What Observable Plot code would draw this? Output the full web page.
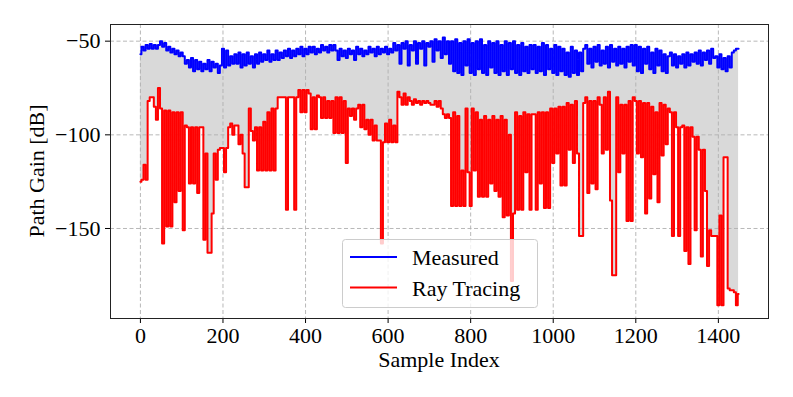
<!DOCTYPE html>
<html>
<head>
<meta charset="utf-8">
<script src="https://cdn.jsdelivr.net/npm/d3@7"></script>
<script src="https://cdn.jsdelivr.net/npm/@observablehq/plot@0.6"></script>
<style>
  html, body { margin: 0; padding: 0; background: #fff; }
  svg { display: block; }
</style>
</head>
<body>
<div id="chart"></div>
<script>
// Sample indices (every 5th sample, plus the final one)
const sampleIndex = d3.range(0, 1450, 5).concat([1449]);

// Measured path gain [dB]
const measured = [
  -57, -53, -55, -52, -54, -51.5, -54, -52, -54, -52,          // 0-45
  -50, -53, -51, -55, -53, -56,                                // 50-75
  -54, -57, -55, -58, -56,                                     // 80-100
  -58, -62, -60, -64,                                          // 105-120
  -59, -66, -60, -65, -61, -66,                                // 125-150
  -62, -65, -60, -66, -61, -64, -62,                           // 155-185
  -67, -63,                                                    // 190-195
  -54, -64, -55, -63,                                          // 200-215
  -58, -62, -57,                                               // 220-230
  -62, -56, -64, -57, -63, -56, -62, -58, -64, -57,            // 235-280
  -62, -56, -61, -57, -60, -55, -61, -57, -60, -55, -60, -56, -59, -55, // 285-350
  -58, -54, -59, -55, -58, -54, -57, -53, -58, -54, -57, -53,
  -56, -53, -57, -54, -56, -52, -55, -53, -56, -52, -55, -52,  // 355-470
  -55, -60, -54, -58, -55, -59, -54, -57, -55, -60, -53, -57, -54, -58,
  -55, -57, -53, -56, -54, -58, -53, -57, -54, -56, -53, -57, -54, -56, // 475-610
  -51, -55, -52, -62, -51, -54, -50, -63, -52, -55,
  -50, -62, -51, -54, -50, -63, -51, -53, -50, -61,            // 615-710
  -49, -55, -50, -59, -48, -57, -50, -62,                      // 715-750
  -50, -66, -49, -67, -51, -68, -50, -63, -49, -67,
  -51, -68, -50, -65, -49, -67, -52, -68, -50, -64,
  -51, -67, -50, -68, -52, -66, -50, -68, -51, -65,
  -50, -67, -52, -68, -51, -66, -53, -67, -52, -65,            // 755-950
  -52, -67, -53, -66, -51, -68, -52, -65, -54, -67, -52, -68, -53,
  -66, -54, -68, -56, -69, -53, -67, -55, -68, -56, -66, -54,  // 955-1075
  -52, -62, -54, -64, -53, -61, -52, -63, -55, -62, -53, -64,
  -52, -61, -54, -63, -53, -62, -54, -64, -53, -61, -52, -63,  // 1080-1195
  -52, -66, -53, -67, -54, -62, -53, -65, -56, -67, -54, -63, -55, -66, -57, -67, -58, // 1200-1280
  -56, -63, -57, -64, -58, -62, -57, -64, -56, -63, -57,
  -61, -56, -62, -55, -63, -56, -60, -55, -62, -54, -59,       // 1285-1390
  -58, -64, -57, -65, -59, -66, -58, -64,                      // 1395-1430
  -56, -55, -54, -54                                           // 1435-1449
];

// Ray tracing path gain [dB]
const rayTracing = [
  -125, -124, -116, -124, -82, -80, -80, -85, -92, -75,        // 0-45
  -86, -158, -87, -149, -87, -149,                             // 50-75
  -88, -136, -88, -130, -88,                                   // 80-100
  -151, -95, -96, -126,                                        // 105-120
  -96, -126, -96, -131, -96, -96,                              // 125-150
  -156, -110, -163, -163, -142, -110, -124,                    // 155-185
  -108, -107,                                                  // 190-195
  -107, -120, -107, -96,                                       // 200-215
  -94, -100, -95,                                              // 220-230
  -95, -105, -100, -110, -128, -128, -86, -98, -103, -96,      // 235-280
  -119, -96, -119, -93, -119, -88, -119, -86, -119, -86, -80, -80, -80, -80, // 285-350
  -140, -80, -80, -80, -140, -80, -76, -88, -76, -88, -76, -78,
  -97, -80, -97, -79, -80, -91, -80, -91, -82, -91, -82, -99,  // 355-470
  -80, -99, -80, -99, -82, -115, -86, -90, -86, -92, -86, -84, -96, -84,
  -97, -92, -100, -92, -103, -95, -103, -103, -158, -104, -94, -104, -92, -104, // 475-610
  -95, -104, -77, -80, -84, -78, -84, -80, -82, -84,
  -81, -83, -82, -84, -82, -83, -82, -83, -84, -84,            // 615-710
  -82, -85, -82, -86, -89, -91, -89, -91,                      // 715-750
  -138, -88, -138, -90, -138, -119, -138, -86, -120, -138,
  -86, -119, -88, -133, -92, -133, -90, -133, -92, -126,
  -90, -130, -92, -133, -90, -144, -92, -143, -100, -178,
  -142, -88, -140, -90, -140, -88, -120, -89, -140, -89,       // 755-950
  -89, -140, -88, -126, -88, -139, -88, -139, -86, -115, -86, -110, -85,
  -127, -85, -127, -83, -108, -84, -115, -82, -110, -154, -154, -83, // 955-1075
  -80, -131, -82, -126, -82, -129, -80, -84, -110, -80, -108, -77,
  -135, -175, -175, -80, -120, -84, -110, -84, -146, -82, -146, -80, // 1080-1195
  -82, -110, -82, -112, -83, -142, -83, -134, -85, -121, -88, -136, -83, -111, -84, -105, -86, // 1200-1280
  -88, -154, -88, -96, -154, -96, -95, -162, -96, -169, -96,
  -101, -151, -101, -108, -165, -108, -130, -170, -151, -154, -154, // 1285-1390
  -154, -191, -143, -191, -112, -112, -182, -183,              // 1395-1430
  -183, -184, -191, -185                                       // 1435-1449
];

const xTicks = [0, 200, 400, 600, 800, 1000, 1200, 1400];
const yTicks = [-50, -100, -150];
const seriesNames = ["Measured", "Ray Tracing"];
const seriesColors = ["#0000ff", "#ff0000"];

const n = Math.min(sampleIndex.length, measured.length, rayTracing.length);
if (sampleIndex.length !== measured.length || sampleIndex.length !== rayTracing.length) {
  console.warn("length mismatch", sampleIndex.length, measured.length, rayTracing.length);
}
const rows = d3.range(n).map(i => ({s: sampleIndex[i], m: measured[i], r: rayTracing[i]}));

const FONT = "'Liberation Serif', 'Times New Roman', serif";
const W = 793, H = 397;
const mL = 110, mR = 25, mT = 24, mB = 79;

const plot = Plot.plot({
  width: W,
  height: H,
  marginLeft: mL,
  marginRight: mR,
  marginTop: mT,
  marginBottom: mB,
  style: {fontFamily: FONT, fontSize: "22px", color: "#000", background: "#fff"},
  x: {domain: [-72.45, 1521.45], ticks: xTicks, label: null},
  y: {domain: [-198.05, -41.1], ticks: yTicks, label: null},
  marks: [
    Plot.areaY(rows, {x: "s", y1: "m", y2: "r", fill: "#d9d9d9", curve: "step"}),
    Plot.ruleX(xTicks, {stroke: "#b0b0b0", strokeWidth: 0.9, strokeDasharray: "4,2.5"}),
    Plot.ruleY(yTicks, {stroke: "#b0b0b0", strokeWidth: 0.9, strokeDasharray: "4,2.5"}),
    Plot.lineY(rows, {x: "s", y: "m", stroke: seriesColors[0], strokeWidth: 2, curve: "step"}),
    Plot.lineY(rows, {x: "s", y: "r", stroke: seriesColors[1], strokeWidth: 2, curve: "step"}),
    Plot.axisX({ticks: xTicks, tickSize: 5, tickPadding: 4, label: null, fontSize: 22, tickFormat: d3.format("d")}),
    Plot.axisY({ticks: yTicks, tickSize: 5, tickPadding: 5, label: null, fontSize: 22}),
    Plot.frame({stroke: "#222", strokeWidth: 1})
  ]
});

document.getElementById("chart").appendChild(plot);

const svg = d3.select(plot);
// axis titles
svg.append("text")
  .attr("x", mL + (W - mL - mR) / 2).attr("y", 367)
  .attr("text-anchor", "middle")
  .style("font-family", FONT).style("font-size", "22px").attr("fill", "#000")
  .text("Sample Index");
svg.append("text")
  .attr("transform", `translate(44, ${mT + (H - mT - mB) / 2}) rotate(-90)`)
  .attr("text-anchor", "middle")
  .style("font-family", FONT).style("font-size", "22px").attr("fill", "#000")
  .text("Path Gain [dB]");

// legend (inside axes, lower center)
const lg = svg.append("g").attr("text-anchor", "start");
lg.append("rect")
  .attr("x", 342.5).attr("y", 239.5).attr("width", 195).attr("height", 68)
  .attr("rx", 3).attr("ry", 3)
  .attr("fill", "#fff").attr("fill-opacity", 0.8)
  .attr("stroke", "#cccccc").attr("stroke-width", 1);
seriesNames.forEach((name, i) => {
  const yy = 257 + i * 30.5;
  lg.append("line")
    .attr("x1", 350).attr("x2", 397).attr("y1", yy).attr("y2", yy)
    .attr("stroke", seriesColors[i]).attr("stroke-width", 2);
  lg.append("text")
    .attr("x", 412).attr("y", yy + 8)
    .attr("text-anchor", "start")
    .style("font-family", FONT).style("font-size", "22px").attr("fill", "#000")
    .text(name);
});
</script>
</body>
</html>
